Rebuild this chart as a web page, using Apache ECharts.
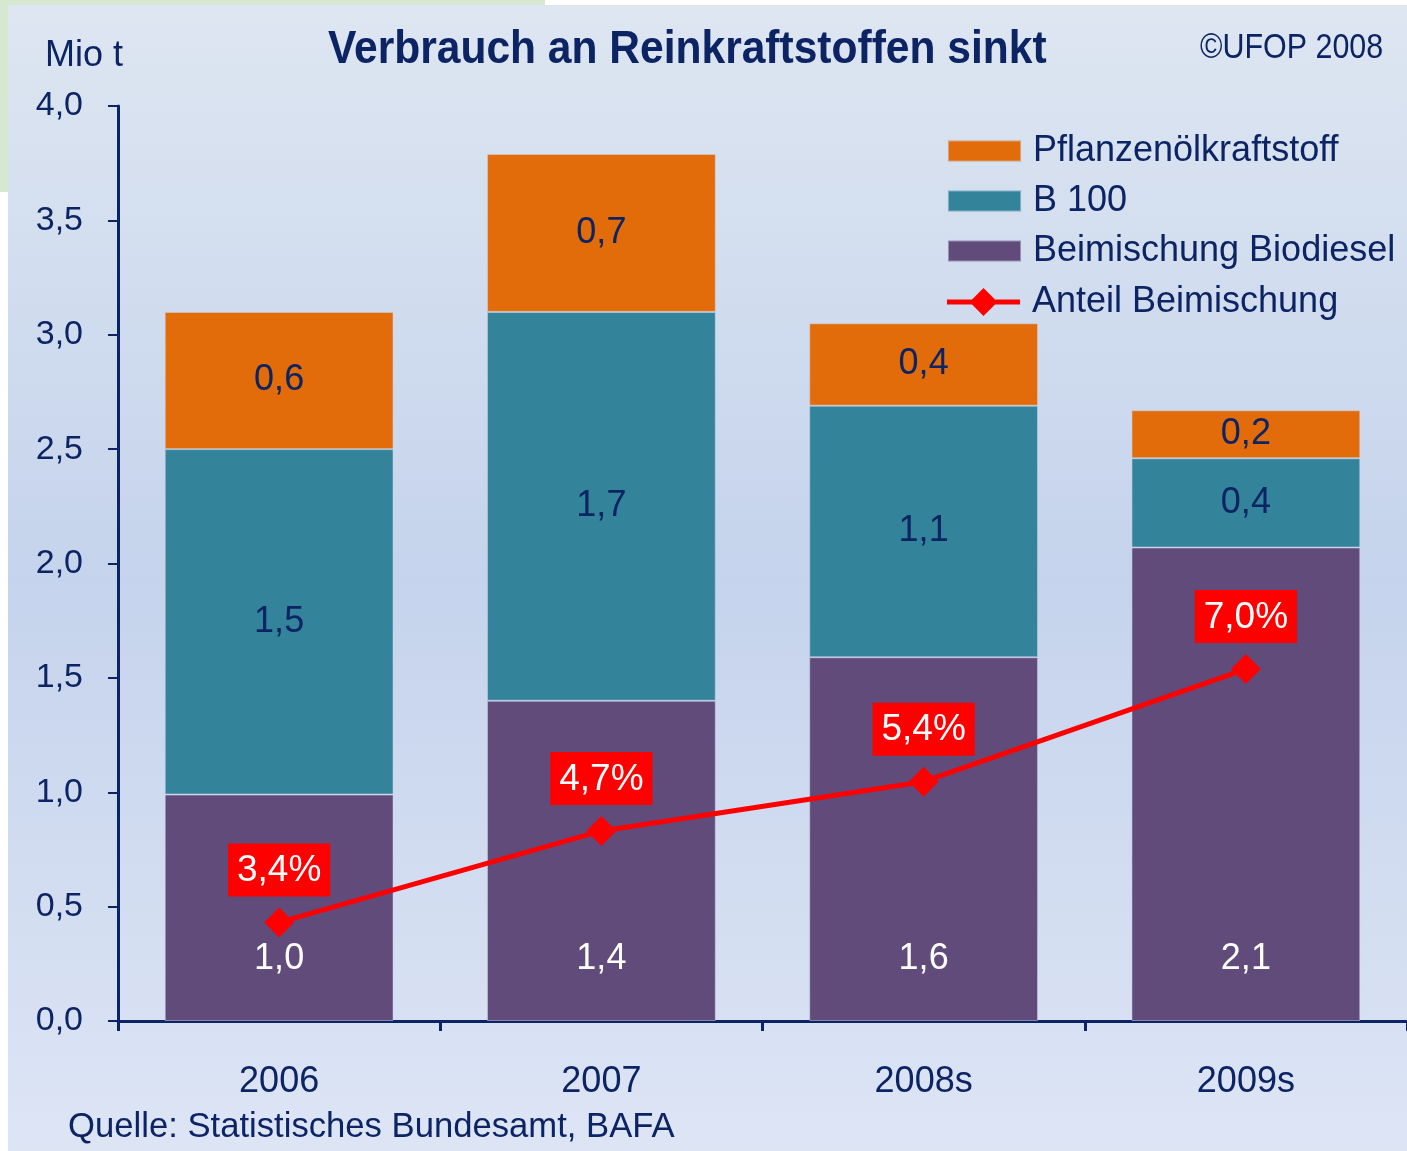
<!DOCTYPE html>
<html>
<head>
<meta charset="utf-8">
<script src="https://cdn.jsdelivr.net/npm/echarts@6/dist/echarts.min.js"></script>
<style>
  html, body { margin: 0; padding: 0; background: #ffffff; }
  #myChart { width: 1407px; height: 1151px; }
</style>
</head>
<body>
<div id="myChart"></div>
<script>
  // Werte in Mio t
  var categories = ['2006', '2007', '2008s', '2009s'];
  var beimischung = [0.99, 1.40, 1.59, 2.07];
  var b100 = [1.51, 1.70, 1.10, 0.39];
  var pflanzenoel = [0.60, 0.69, 0.36, 0.21];
  // Anteil Beimischung in %
  var anteil = [3.4, 4.7, 5.4, 7.0];

  var navy = '#0c2463';
  var font = 'Liberation Sans, Arial, sans-serif';

  function komma(v) {
    return Number(v).toFixed(1).replace('.', ',');
  }

  function barLabel(color) {
    return {
      show: true,
      position: 'inside',
      color: color,
      fontFamily: font,
      fontSize: 36,
      formatter: function (p) { return komma(p.value); }
    };
  }

  // Linie mit Raute fuer die Legende
  var lineIcon = 'path://M0 11.5L73 11.5L73 16.5L0 16.5Z M36.5 0L50.5 14L36.5 28L22.5 14Z';

  var myChart = echarts.init(document.getElementById('myChart'));

  var option = {
    backgroundColor: '#ffffff',
    animation: false,
    graphic: [
      {
        type: 'rect', z: -10,
        shape: {x: 0, y: 0, width: 545, height: 192},
        style: {fill: '#d6e8d0'}
      },
      {
        type: 'rect', z: -9,
        shape: {x: 8, y: 5, width: 1399, height: 1146},
        style: {
          fill: new echarts.graphic.LinearGradient(0, 0, 0, 1, [
            {offset: 0, color: '#dde6f1'},
            {offset: 0.5, color: '#c5d3ec'},
            {offset: 1, color: '#dde5f5'}
          ])
        }
      },
      {
        type: 'text', x: 328, y: 50, scaleX: 0.905,
        style: {text: 'Verbrauch an Reinkraftstoffen sinkt', x: 0, y: 0, align: 'left', verticalAlign: 'middle',
          font: 'bold 47px ' + font, fill: navy}
      },
      {
        type: 'text', x: 1200, y: 48, scaleX: 0.87,
        style: {text: '©UFOP 2008', x: 0, y: 0, align: 'left', verticalAlign: 'middle',
          font: '35px ' + font, fill: navy}
      },
      {
        type: 'text', x: 45, y: 56,
        style: {text: 'Mio t', x: 0, y: 0, align: 'left', verticalAlign: 'middle',
          font: '36px ' + font, fill: navy}
      },
      {
        type: 'text', x: 68, y: 1127, scaleX: 0.99,
        style: {text: 'Quelle: Statistisches Bundesamt, BAFA', x: 0, y: 0, align: 'left', verticalAlign: 'middle',
          font: '35px ' + font, fill: navy}
      }
    ],
    legend: [
      {
        orient: 'vertical',
        left: 947,
        top: 133,
        padding: 0,
        icon: 'rect',
        itemWidth: 73,
        itemHeight: 21,
        itemGap: 14,
        data: ['Pflanzenölkraftstoff', 'B 100', 'Beimischung Biodiesel'],
        textStyle: {color: navy, fontFamily: font, fontSize: 36, padding: [0, 0, 0, 7]}
      },
      {
        orient: 'vertical',
        left: 947,
        top: 284,
        padding: 0,
        icon: lineIcon,
        itemWidth: 73,
        itemHeight: 28,
        data: ['Anteil Beimischung'],
        textStyle: {color: navy, fontFamily: font, fontSize: 36, padding: [0, 0, 0, 7]}
      }
    ],
    grid: {
      left: 118,
      right: 0,
      top: 106,
      bottom: 130
    },
    xAxis: {
      type: 'category',
      data: categories,
      axisLine: {lineStyle: {color: navy, width: 3}},
      axisTick: {show: true, length: 10, lineStyle: {color: navy, width: 3}},
      axisLabel: {color: navy, fontFamily: font, fontSize: 36, margin: 43}
    },
    yAxis: [
      {
        type: 'value',
        min: 0,
        max: 4,
        interval: 0.5,
        splitLine: {show: false},
        axisLine: {show: true, lineStyle: {color: navy, width: 3}},
        axisTick: {show: true, length: 10, lineStyle: {color: navy, width: 2}},
        axisLabel: {color: navy, fontFamily: font, fontSize: 34, margin: 35, formatter: komma}
      },
      {
        type: 'value',
        min: 2,
        max: 15,
        show: false
      }
    ],
    series: [
      {
        name: 'Beimischung Biodiesel',
        type: 'bar',
        stack: 'kraftstoff',
        barCategoryGap: '29%',
        data: beimischung,
        itemStyle: {color: '#604b7b', borderColor: 'rgba(210,215,235,0.5)', borderWidth: 1},
        label: Object.assign(barLabel('#ffffff'), {position: 'insideBottom', distance: 44})
      },
      {
        name: 'B 100',
        type: 'bar',
        stack: 'kraftstoff',
        data: b100,
        itemStyle: {color: '#33849b', borderColor: 'rgba(210,215,235,0.5)', borderWidth: 1},
        label: barLabel(navy)
      },
      {
        name: 'Pflanzenölkraftstoff',
        type: 'bar',
        stack: 'kraftstoff',
        data: pflanzenoel,
        itemStyle: {color: '#e36c0a', borderColor: 'rgba(210,215,235,0.5)', borderWidth: 1},
        label: barLabel(navy)
      },
      {
        name: 'Anteil Beimischung',
        type: 'line',
        yAxisIndex: 1,
        data: anteil,
        symbol: 'diamond',
        symbolSize: 30,
        lineStyle: {color: '#ff0000', width: 5},
        itemStyle: {color: '#ff0000'},
        z: 5,
        label: {
          show: true,
          position: 'top',
          distance: 11,
          color: '#ffffff',
          backgroundColor: '#ff0000',
          fontFamily: font,
          fontSize: 37,
          padding: [9, 9, 7, 9],
          formatter: function (p) { return komma(p.value) + '%'; }
        }
      }
    ]
  };

  myChart.setOption(option);
</script>
</body>
</html>
